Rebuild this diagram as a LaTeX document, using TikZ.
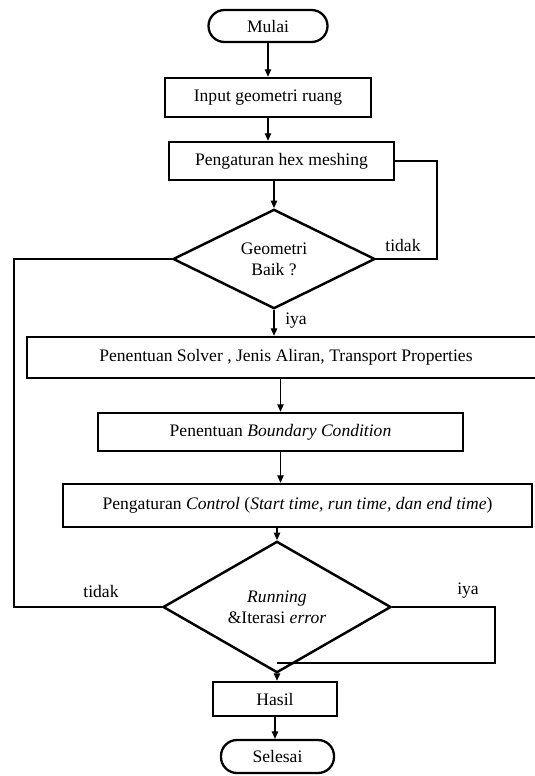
\documentclass[tikz,border=0pt]{standalone}
\usepackage{fontspec}
\setmainfont{Liberation Serif}
\usetikzlibrary{shapes.geometric,arrows.meta}

\begin{document}
\begin{tikzpicture}[x=0.2mm,y=-0.2mm,
  font=\fontsize{10}{12}\selectfont,
  term/.style={draw,line width=1.3pt,rounded corners=3.2mm,inner sep=0pt},
  proc/.style={draw,line width=1.4pt,inner sep=0pt},
  dec/.style={draw,diamond,line width=1.4pt,inner sep=0pt,align=center},
  arr/.style={-{Triangle[length=1.5mm,width=1.3mm]},line width=0.6pt},
  ln/.style={line width=0.6pt}]
  \useasboundingbox (0,0) rectangle (534,776);
  % main column
  \node[term,minimum width=23.8mm,minimum height=6.4mm] (mulai) at (268,26) {Mulai};
  \node[proc,minimum width=41.2mm,minimum height=7.8mm] (inp) at (268,97.5) {Input geometri ruang};
  \node[proc,minimum width=45mm,minimum height=7.6mm] (hex) at (281.5,161) {Pengaturan hex meshing};
  \node[dec,minimum width=40.4mm,minimum height=18.6mm] (geo) at (274,259) {Geometri\\Baik ?};
  \node[proc,minimum width=103.6mm,minimum height=8.2mm] (solv) at (286,357.5) {Penentuan Solver , Jenis Aliran, Transport Properties};
  \node[proc,minimum width=73mm,minimum height=7.6mm] (bc) at (280.5,432) {Penentuan \textit{Boundary Condition}};
  \node[proc,minimum width=93.8mm,minimum height=8.6mm] (ctrl) at (297.5,505.5) {Pengaturan \textit{Control} (\textit{Start time, run time, dan end time})};
  \node[dec,minimum width=45.6mm,minimum height=20mm] (run) at (277,607) {\textit{Running}\\\&Iterasi \textit{error}};
  \node[proc,minimum width=24.8mm,minimum height=6.8mm] (hasil) at (275,699) {Hasil};
  \node[term,minimum width=22.6mm,minimum height=6.6mm] (selesai) at (277.5,756.5) {Selesai};
  % arrows
  \draw[arr] (mulai.south -| inp.north) -- (inp.north);
  \draw[arr] (inp.south) -- (inp.south |- hex.north);
  \draw[arr] (hex.south -| geo.north) -- (geo.north);
  \draw[arr] (geo.south) -- (geo.south |- solv.north);
  \draw[arr] (solv.south -| bc.north) -- (bc.north);
  \draw[arr] (bc.south) -- (bc.south |- ctrl.north);
  \draw[arr] (ctrl.south -| run.north) -- (run.north);
  \draw[arr] (run.south) -- (run.south |- hasil.north);
  \draw[arr] (hasil.south) -- (hasil.south |- selesai.north);
  % loops
  \coordinate (rtop) at (437,259);
  \coordinate (lbot) at (14,607);
  \coordinate (rbot) at (495,663);
  \draw[ln] (hex.east) -| (rtop) -- (geo.east);
  \draw[ln] (geo.west) -| (lbot) -- (run.west);
  \draw[ln] (run.east) -| (rbot) -- (rbot -| run.south);
  % labels
  \node (t1) at (403,245) {tidak};
  \node (y1) at (296,321) {iya};
  \node (t2) at (101,591) {tidak};
  \node (y2) at (468,591) {iya};
\end{tikzpicture}
\end{document}
